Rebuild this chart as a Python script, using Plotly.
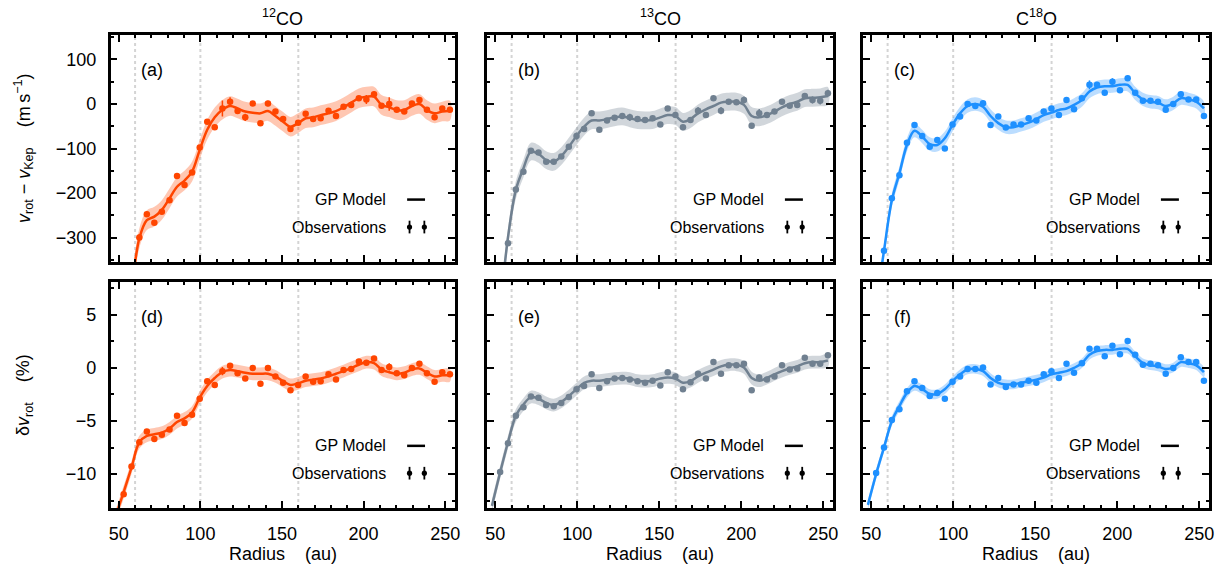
import plotly.graph_objects as go

# ---------------- data ----------------
RADII = [53.0, 57.8, 62.6, 67.2, 71.8, 76.4, 81.1, 85.7, 90.3, 94.9, 99.6, 104.2, 108.8, 113.5,
         118.2, 122.8, 127.5, 132.1, 136.8, 141.4, 146.0, 150.7, 155.2, 159.9, 164.5, 169.1,
         173.7, 178.5, 183.1, 187.7, 192.4, 197.1, 201.7, 206.4, 211.0, 215.7, 220.3, 224.9,
         229.6, 234.2, 238.8, 243.5, 248.2, 252.9]

MODEL_R = [48.0, 53.0, 57.8, 62.6, 67.2, 71.8, 76.4, 81.1, 85.7, 90.3, 94.9, 99.6, 104.2, 108.8,
           113.5, 118.2, 122.8, 127.5, 132.1, 136.8, 141.4, 146.0, 150.7, 155.2, 159.9, 164.5,
           169.1, 173.7, 178.5, 183.1, 187.7, 192.4, 197.1, 201.7, 206.4, 211.0, 215.7, 220.3,
           224.9, 229.6, 234.2, 238.8, 243.5, 248.2, 252.9]

# 12CO  v_rot - v_Kep (m/s)
obs_12co_dv = [-556, -415, -300, -248, -267, -242, -216, -162, -182, -154, -98, -40, -52, -10, 5,
               -16, -30, 1, -43, 1, -17, -34, -56, -42, -22, -34, -32, -15, -27, -6, -2, 13, 10,
               22, -4, 0, -13, -17, 1, 9, -13, -30, -10, -13]
err_12co_dv = [8, 8, 8, 6, 5, 5, 6, 5, 5, 5, 6, 5, 5, 18, 10, 5, 8, 5, 5, 6, 5, 5, 6, 5, 5, 5,
               5, 5, 5, 6, 5, 5, 10, 6, 5, 15, 5, 5, 5, 6, 6, 6, 5, 5]
gp_12co_dv = [-660, -546, -419, -302, -261, -253, -238, -212, -186, -172, -152, -103, -58, -30,
              -13, -4.5, -10, -17, -19.5, -21, -16, -27, -40, -51, -43, -32, -30, -25, -21, -16,
              -7.5, 3, 13, 16.5, 16.5, -2, -7.5, -13.5, -13.5, -4.5, 0, -13.5, -21, -17, -15]
sig_12co_dv = 22

# 12CO  delta v_rot (%)
obs_12co_pc = [-11.9, -9.3, -7.0, -6.0, -6.7, -6.3, -5.8, -4.5, -5.2, -4.4, -2.9, -1.25, -1.6,
               -0.3, 0.2, -0.5, -1.0, 0.0, -1.5, 0.0, -0.8, -1.4, -2.1, -1.6, -0.8, -1.3, -1.25,
               -0.6, -1.1, -0.2, -0.1, 0.6, 0.5, 0.9, -0.2, 0.1, -0.5, -0.7, 0.0, 0.4, -0.5,
               -1.3, -0.4, -0.6]
err_12co_pc = [0.2, 0.2, 0.15, 0.15, 0.12, 0.12, 0.12, 0.12, 0.12, 0.12, 0.12, 0.12, 0.12, 0.4,
               0.25, 0.12, 0.2, 0.12, 0.12, 0.12, 0.12, 0.12, 0.15, 0.12, 0.12, 0.12, 0.12, 0.12,
               0.12, 0.15, 0.12, 0.12, 0.25, 0.15, 0.12, 0.35, 0.12, 0.12, 0.12, 0.15, 0.15, 0.15,
               0.12, 0.12]
gp_12co_pc = [-14.0, -11.7, -9.4, -7.0, -6.4, -6.25, -6.1, -5.7, -5.1, -4.75, -4.2, -2.8, -1.7,
              -0.95, -0.4, -0.2, -0.3, -0.45, -0.55, -0.55, -0.55, -0.8, -1.25, -1.6, -1.45,
              -1.2, -1.1, -1.0, -0.8, -0.55, -0.3, 0.0, 0.3, 0.55, 0.45, -0.15, -0.4, -0.55,
              -0.45, -0.15, -0.05, -0.45, -0.8, -0.7, -0.7]
sig_12co_pc = 0.6

# 13CO
obs_13co_dv = [-448, -313, -192, -152, -105, -109, -130, -130, -118, -96, -72, -56, -21, -58, -37,
               -31, -27, -30, -34, -36, -32, -46, -10, -25, -52, -36, -15, -25, 13, -15, 5, 4, 9,
               -49, -21, -25, -17, 5, -4, -2, 18, 9, 7, 24]
err_13co_dv = [6, 6, 5, 5, 5, 5, 5, 5, 5, 5, 8, 5, 6, 5, 5, 5, 5, 8, 5, 5, 5, 5, 5, 5, 5, 5, 8,
               5, 5, 8, 5, 5, 8, 6, 10, 5, 5, 5, 5, 6, 6, 8, 8, 8]
gp_13co_dv = [-640, -460, -300, -193, -145, -107, -112, -126, -130, -117, -96, -72, -51, -37, -37,
              -34, -30, -28, -32, -36, -37, -36, -30, -25, -27, -40, -34, -21, -12, -4.5, 3, 5,
              5, -2, -27, -30, -25, -17, -7.5, 0, 5, 13, 14, 15, 18]
sig_13co_dv = 20

obs_13co_pc = [-9.8, -7.1, -4.5, -3.7, -2.7, -2.8, -3.5, -3.6, -3.3, -2.75, -2.0, -1.7, -0.6,
               -1.9, -1.25, -1.0, -0.95, -1.1, -1.25, -1.4, -1.2, -1.65, -0.4, -0.8, -2.0, -1.35,
               -0.55, -1.0, 0.55, -0.55, 0.25, 0.25, 0.4, -2.1, -0.9, -1.1, -0.8, 0.25, -0.15,
               -0.05, 0.95, 0.4, 0.4, 1.2]
err_13co_pc = [0.15, 0.12, 0.12, 0.12, 0.12, 0.12, 0.12, 0.12, 0.12, 0.12, 0.2, 0.12, 0.15, 0.12,
               0.12, 0.12, 0.12, 0.2, 0.12, 0.12, 0.12, 0.12, 0.12, 0.12, 0.12, 0.12, 0.2, 0.12,
               0.12, 0.2, 0.12, 0.12, 0.2, 0.15, 0.25, 0.12, 0.12, 0.12, 0.12, 0.15, 0.15, 0.2,
               0.2, 0.2]
gp_13co_pc = [-13.0, -9.85, -7.0, -4.5, -3.45, -2.75, -2.9, -3.3, -3.5, -3.2, -2.65, -2.0, -1.4,
              -1.2, -1.2, -1.1, -1.0, -0.95, -1.0, -1.2, -1.25, -1.2, -1.0, -0.9, -1.0, -1.4,
              -1.25, -0.8, -0.45, -0.15, 0.15, 0.3, 0.3, 0.05, -0.95, -1.2, -0.95, -0.6, -0.3,
              -0.05, 0.15, 0.45, 0.55, 0.55, 0.7]
sig_13co_pc = 0.6

# C18O
obs_c18o_dv = [-450, -330, -212, -160, -87, -47, -72, -96, -81, -100, -46, -28, 0, -4.5, 1.5, -47,
               -28, -53, -46, -46, -32, -37, -17, -10, -25, 9, -12, 13, 43, 43, 25, 50, 31, 58,
               25, 7, 7, 5, -13, 0, 22, 10, 10, -27]
err_c18o_dv = [5, 5, 5, 5, 5, 5, 5, 5, 5, 5, 5, 5, 5, 5, 5, 5, 5, 5, 5, 5, 5, 5, 5, 5, 5, 5, 5,
               5, 10, 6, 5, 8, 5, 6, 5, 5, 5, 5, 5, 5, 6, 5, 5, 6]
gp_c18o_dv = [-630, -455, -330, -216, -156, -92, -60, -73, -90, -92, -77, -47, -21, -4.5, 0, -6,
              -27, -43, -52, -52, -47, -42, -34, -25, -19.5, -13.5, -10, -2, 9, 28, 37, 40, 40,
              43, 43, 24, 10.5, 5, 3, -4.5, 1.5, 13, 10.5, 5, -10]
sig_c18o_dv = 15

obs_c18o_pc = [-9.9, -7.5, -4.9, -3.9, -2.2, -1.25, -1.9, -2.65, -2.35, -2.9, -1.3, -0.8, -0.1,
               -0.1, 0.05, -1.55, -0.95, -1.8, -1.55, -1.55, -1.2, -1.4, -0.6, -0.3, -0.95, 0.4,
               -0.45, 0.45, 1.8, 1.8, 1.1, 2.1, 1.3, 2.55, 1.25, 0.3, 0.4, 0.25, -0.55, 0.0, 1.0,
               0.55, 0.55, -1.2]
err_c18o_pc = [0.12, 0.12, 0.12, 0.12, 0.12, 0.12, 0.12, 0.12, 0.12, 0.12, 0.12, 0.12, 0.12,
               0.12, 0.12, 0.12, 0.12, 0.12, 0.12, 0.12, 0.12, 0.12, 0.12, 0.12, 0.12, 0.12, 0.12,
               0.12, 0.25, 0.15, 0.12, 0.2, 0.12, 0.15, 0.12, 0.12, 0.12, 0.12, 0.12, 0.12, 0.15,
               0.12, 0.12, 0.15]
gp_c18o_pc = [-12.9, -10.0, -7.5, -5.0, -3.6, -2.35, -1.7, -2.0, -2.45, -2.45, -2.0, -1.25, -0.6,
              -0.15, -0.1, -0.3, -0.95, -1.4, -1.55, -1.55, -1.4, -1.25, -1.1, -0.9, -0.6, -0.45,
              -0.3, 0.0, 0.45, 1.25, 1.6, 1.7, 1.7, 1.8, 1.8, 1.1, 0.45, 0.25, 0.15, -0.1, 0.05,
              0.55, 0.45, 0.25, -0.4]
sig_c18o_pc = 0.45

GAPS = [60, 100, 160]
TITLES = ["<sup>12</sup>CO", "<sup>13</sup>CO", "C<sup>18</sup>O"]
LABELS = ["(a)", "(b)", "(c)", "(d)", "(e)", "(f)"]
COLORS = [("#FF4500", "rgba(255,69,0,0.30)"),
          ("#708090", "rgba(112,128,144,0.32)"),
          ("#1E90FF", "rgba(30,144,255,0.30)")]

panels = [
    (obs_12co_dv, err_12co_dv, gp_12co_dv, sig_12co_dv, 0),
    (obs_13co_dv, err_13co_dv, gp_13co_dv, sig_13co_dv, 1),
    (obs_c18o_dv, err_c18o_dv, gp_c18o_dv, sig_c18o_dv, 2),
    (obs_12co_pc, err_12co_pc, gp_12co_pc, sig_12co_pc, 0),
    (obs_13co_pc, err_13co_pc, gp_13co_pc, sig_13co_pc, 1),
    (obs_c18o_pc, err_c18o_pc, gp_c18o_pc, sig_c18o_pc, 2),
]

# ---------------- layout geometry ----------------
W, H = 1228, 578
COLS = [(110.6, 455.0), (487.0, 833.0), (863.0, 1209.0)]
ROWS = [(35.0, 262.0), (282.0, 508.0)]
FONT = "Liberation Sans, Arial, Helvetica, sans-serif"

fig = go.Figure()
layout = dict(width=W, height=H, plot_bgcolor="white", paper_bgcolor="white",
              margin=dict(l=0, r=0, t=0, b=0, autoexpand=False), showlegend=False,
              font=dict(family=FONT, color="black", size=18))
shapes, annotations = [], []

for i, (obs, err, gp, sig, ci) in enumerate(panels):
    row, col = divmod(i, 3)
    n = i + 1
    xs = "" if n == 1 else str(n)
    xa, ya = "x" + xs, "y" + xs
    line_c, band_c = COLORS[ci]

    upper = [g + sig for g in gp]
    lower = [g - sig for g in gp]
    fig.add_trace(go.Scatter(x=MODEL_R + MODEL_R[::-1], y=upper + lower[::-1],
                             fill="toself", fillcolor=band_c, line=dict(width=0, shape="spline"),
                             mode="lines", hoverinfo="skip", xaxis=xa, yaxis=ya))
    fig.add_trace(go.Scatter(x=MODEL_R, y=gp, mode="lines",
                             line=dict(color=line_c, width=2.5, shape="spline"),
                             xaxis=xa, yaxis=ya))
    fig.add_trace(go.Scatter(x=RADII, y=obs, mode="markers",
                             marker=dict(color=line_c, size=6.5),
                             error_y=dict(type="data", array=err, color=line_c,
                                          thickness=1.5, width=0),
                             xaxis=xa, yaxis=ya))

    x0, x1 = COLS[col]
    y0, y1 = ROWS[row]
    xdom = [x0 / W, x1 / W]
    ydom = [1 - y1 / H, 1 - y0 / H]
    ax_common = dict(showline=True, linewidth=2.5, linecolor="black", mirror="allticks",
                     ticks="inside", ticklen=7, tickwidth=2, tickcolor="black",
                     showgrid=False, zeroline=False,
                     tickfont=dict(size=18, family=FONT, color="black"))
    xaxis = dict(ax_common, domain=xdom, range=[45, 256], anchor=ya, tick0=0, dtick=50,
                 minor=dict(dtick=10, ticklen=3.5, tickwidth=2, ticks="inside", tickcolor="black"),
                 showticklabels=(row == 1), ticklabelstandoff=8)
    if row == 0:
        yrange, ydt, ymin = [-355, 155], 100, 50
    else:
        yrange, ydt, ymin = [-13.2, 8.1], 5, 2.5
    yaxis = dict(ax_common, domain=ydom, range=yrange, anchor=xa, tick0=0, dtick=ydt,
                 minor=dict(dtick=ymin, ticklen=3.5, tickwidth=2, ticks="inside", tickcolor="black"),
                 showticklabels=(col == 0), ticklabelstandoff=8)
    layout["xaxis" + xs] = xaxis
    layout["yaxis" + xs] = yaxis

    for g in GAPS:
        shapes.append(dict(type="line", xref=xa, yref=ya + " domain", x0=g, x1=g, y0=0, y1=1,
                           line=dict(color="#d4d4d4", width=2, dash="dot"), layer="below"))

    # panel label
    annotations.append(dict(text=LABELS[i], xref=xa + " domain", yref=ya + " domain",
                            x=0.083, y=0.846, xanchor="left", yanchor="middle",
                            showarrow=False, font=dict(size=18, family=FONT)))
    # legend
    annotations.append(dict(text="GP Model", xref=xa + " domain", yref=ya + " domain",
                            x=0.805, y=0.275, xanchor="right", yanchor="middle",
                            showarrow=False, font=dict(size=16, family=FONT)))
    annotations.append(dict(text="Observations", xref=xa + " domain", yref=ya + " domain",
                            x=0.805, y=0.154, xanchor="right", yanchor="middle",
                            showarrow=False, font=dict(size=16, family=FONT)))
    shapes.append(dict(type="line", xref=xa + " domain", yref=ya + " domain",
                       x0=0.861, x1=0.913, y0=0.275, y1=0.275,
                       line=dict(color="black", width=2.5)))
    for sx in (0.868, 0.911):
        shapes.append(dict(type="line", xref=xa + " domain", yref=ya + " domain",
                           x0=sx, x1=sx, y0=0.154 - 0.028, y1=0.154 + 0.028,
                           line=dict(color="black", width=1.8)))
        shapes.append(dict(type="circle", xref=xa + " domain", yref=ya + " domain",
                           xsizemode="pixel", ysizemode="pixel", xanchor=sx, yanchor=0.154,
                           x0=-2.6, x1=2.6, y0=-2.6, y1=2.6,
                           fillcolor="black", line=dict(color="black", width=0)))

# column titles and x axis titles
for col, (x0, x1) in enumerate(COLS):
    xc = (x0 + x1) / 2 / W
    annotations.append(dict(text=TITLES[col], xref="paper", yref="paper", x=xc, y=1 - 17 / H,
                            xanchor="center", yanchor="middle", showarrow=False,
                            font=dict(size=18, family=FONT)))
    annotations.append(dict(text="Radius\u00a0\u00a0\u00a0\u00a0(au)", xref="paper", yref="paper",
                            x=xc, y=1 - 554 / H, xanchor="center", yanchor="middle",
                            showarrow=False, font=dict(size=18, family=FONT)))

# y axis titles
annotations.append(dict(text="<i>v</i><sub>rot</sub> \u2212 <i>v</i><sub>Kep</sub>\u00a0\u00a0\u00a0\u00a0(m\u2009s<sup>\u22121</sup>)",
                        xref="paper", yref="paper", x=24 / W, y=1 - 148 / H, textangle=-90,
                        xanchor="center", yanchor="middle", showarrow=False,
                        font=dict(size=18, family=FONT)))
annotations.append(dict(text="\u03b4<i>v</i><sub>rot</sub>\u00a0\u00a0\u00a0\u00a0(%)",
                        xref="paper", yref="paper", x=24 / W, y=1 - 395 / H, textangle=-90,
                        xanchor="center", yanchor="middle", showarrow=False,
                        font=dict(size=18, family=FONT)))

layout["shapes"] = shapes
layout["annotations"] = annotations
fig.update_layout(**layout)
fig.write_html("out.html", config={"displayModeBar": False},
               post_script="document.body.style.margin='0px';document.body.style.overflow='hidden';")
